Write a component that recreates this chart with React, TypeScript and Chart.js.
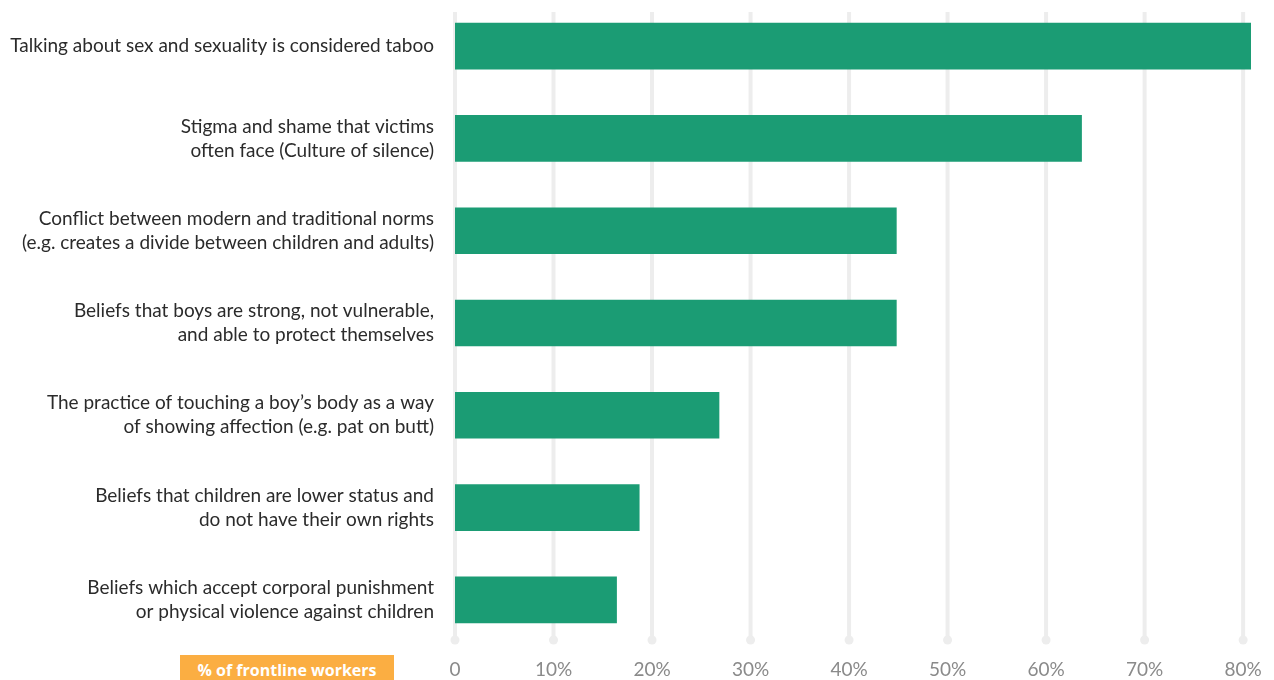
import React, { useEffect, useRef } from "react";
import { Chart, registerables } from "chart.js";

Chart.register(...registerables);

const categories: string[][] = [
  ["Talking about sex and sexuality is considered taboo"],
  ["Stigma and shame that victims", "often face (Culture of silence)"],
  ["Conflict between modern and traditional norms", "(e.g. creates a divide between children and adults)"],
  ["Beliefs that boys are strong, not vulnerable,", "and able to protect themselves"],
  ["The practice of touching a boy\u2019s body as a way", "of showing affection (e.g. pat on butt)"],
  ["Beliefs that children are lower status and", "do not have their own rights"],
  ["Beliefs which accept corporal punishment", "or physical violence against children"],
];

const values: number[] = [80.8, 63.6, 44.8, 44.8, 26.8, 18.7, 16.4];

const tickValues: number[] = [0, 10, 20, 30, 40, 50, 60, 70, 80];
const tickLabels: string[] = ["0", "10%", "20%", "30%", "40%", "50%", "60%", "70%", "80%"];

const axisTitle = "% of frontline workers";

const gridPlugin = {
  id: "roundGrid",
  beforeDatasetsDraw(chart: any) {
    const { ctx, chartArea, scales } = chart;
    const x = scales.x;
    ctx.save();
    ctx.strokeStyle = "#ededed";
    ctx.fillStyle = "#ededed";
    ctx.lineWidth = 4;
    const top = chartArea.top + 12;
    const bottom = chartArea.bottom - 6;
    tickValues.forEach((v) => {
      const px = x.getPixelForValue(v);
      ctx.beginPath();
      ctx.moveTo(px, top);
      ctx.lineTo(px, bottom);
      ctx.stroke();
      ctx.beginPath();
      ctx.arc(px, bottom, 4.5, 0, Math.PI * 2);
      ctx.fill();
    });
    ctx.restore();
  },
};

export default function App() {
  const ref = useRef<HTMLCanvasElement>(null);
  useEffect(() => {
    if (!ref.current) return;
    const chart = new Chart(ref.current, {
      type: "bar",
      data: {
        labels: categories,
        datasets: [
          {
            data: values,
            backgroundColor: "#1b9c74",
            borderWidth: 0,
            barThickness: 46,
          },
        ],
      },
      options: {
        indexAxis: "y",
        animation: false,
        responsive: false,
        maintainAspectRatio: false,
        layout: { padding: { left: 0, right: 23, top: 0, bottom: 0 } },
        plugins: {
          legend: { display: false },
          tooltip: { enabled: false },
        },
        scales: {
          x: {
            type: "linear",
            min: 0,
            max: 80.8,
            grid: { display: false, drawTicks: false },
            border: { display: false },
            afterBuildTicks: (scale: any) => {
              scale.ticks = tickValues.map((v) => ({ value: v }));
            },
            afterFit: (scale: any) => {
              scale.height = 34;
              scale.paddingLeft = 0;
              scale.paddingRight = 0;
            },
            ticks: {
              padding: 12,
              color: "#8a8a8a",
              font: { family: "Lato", size: 19 },
              callback: (_v: any, i: number) => tickLabels[i],
            },
          },
          y: {
            grid: { display: false, drawTicks: false },
            border: { display: false },
            afterFit: (scale: any) => {
              scale.width = 455;
              scale.paddingTop = 0;
              scale.paddingBottom = 0;
            },
            ticks: {
              padding: 21,
              color: "#2b2b2b",
              font: { family: "Lato", size: 19, lineHeight: 1.26 },
            },
          },
        },
      },
      plugins: [gridPlugin],
    });
    return () => chart.destroy();
  }, []);

  return (
    <div style={{ position: "fixed", left: 0, top: 0, width: 1274, height: 680, background: "#fff", overflow: "hidden" }}>
      <canvas ref={ref} width={1274} height={680} style={{ display: "block", width: 1274, height: 680 }} />
      <div
        style={{
          position: "absolute",
          left: 180,
          top: 655,
          width: 214,
          height: 30,
          background: "#fbae42",
          color: "#fff",
          fontFamily: "'Open Sans', sans-serif",
          fontWeight: 700,
          fontSize: 16,
          lineHeight: "30px",
          textAlign: "center",
        }}
      >
        {axisTitle}
      </div>
    </div>
  );
}
